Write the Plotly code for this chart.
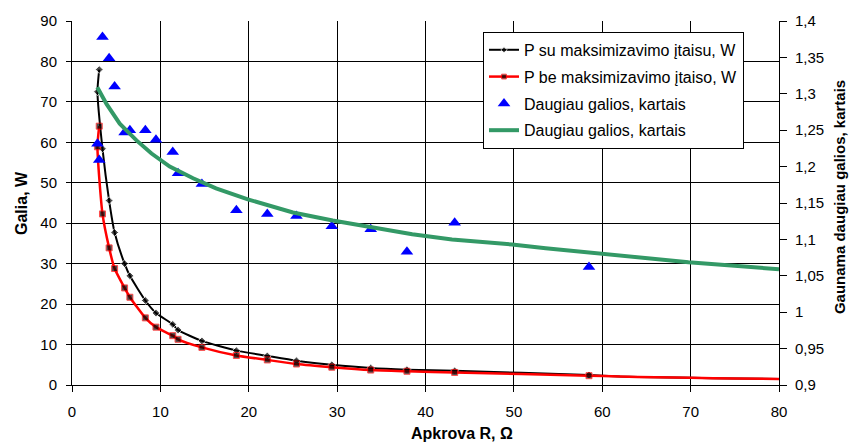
import plotly.graph_objects as go

# Load resistance, Ohm (measurement order)
R = [3.08, 2.88, 3.45, 4.2, 4.82, 5.95, 6.55, 8.3, 9.5, 11.4, 12.0, 14.7,
     18.6, 22.1, 25.4, 29.4, 33.8, 37.9, 43.3, 58.5]
# Power with the maximizer, W
P_with = [78.0, 72.5, 58.4, 45.6, 37.7, 30.0, 27.0, 20.9, 17.8, 15.0, 13.6, 10.9,
          8.5, 7.2, 6.0, 5.0, 4.2, 3.8, 3.5, 2.5]
# Power without the maximizer, W
P_without = [64.0, 58.9, 42.3, 33.9, 28.8, 24.0, 21.7, 16.6, 14.3, 12.2, 11.3, 9.3,
             7.3, 6.2, 5.2, 4.4, 3.7, 3.4, 3.1, 2.3]
# Power gain ratio at each load
gain = [1.209, 1.2315, 1.378, 1.349, 1.310, 1.247, 1.250, 1.250, 1.237, 1.220, 1.191, 1.176,
        1.140, 1.135, 1.132, 1.118, 1.114, 1.083, 1.123, 1.062]

# Curve continuation past the last measurement
R_tail = [62, 66, 70, 75, 80]
P_with_tail = [2.1, 1.9, 1.8, 1.6, 1.5]
P_without_tail = [2.1, 1.9, 1.8, 1.6, 1.5]

# Gain trend curve
R_trend = [2.86, 3.9, 5.4, 7.3, 9.0, 11.06, 13.7, 16.3, 19.9, 25.0, 29.5, 34.0,
           38.5, 43.0, 46.0, 49.8, 53.6, 60.0, 69.75, 80.0]
gain_trend = [1.309, 1.286, 1.259, 1.236, 1.218, 1.200, 1.184, 1.170, 1.155, 1.137, 1.126, 1.116,
              1.107, 1.100, 1.097, 1.093, 1.088, 1.080, 1.0685, 1.059]

x_ticks = [0, 10, 20, 30, 40, 50, 60, 70, 80]
y_ticks = [0, 10, 20, 30, 40, 50, 60, 70, 80, 90]
y2_ticks = [0.9, 0.95, 1.0, 1.05, 1.1, 1.15, 1.2, 1.25, 1.3, 1.35, 1.4]
y2_labels = ["0,9", "0,95", "1", "1,05", "1,1", "1,15", "1,2", "1,25", "1,3", "1,35", "1,4"]

FONT = "Liberation Sans, Arial, sans-serif"

fig = go.Figure()

fig.add_trace(go.Scatter(
    x=R + R_tail, y=P_with + P_with_tail, mode="lines+markers",
    name="P su maksimizavimo įtaisu, W", legendgroup="a",
    line=dict(color="black", width=2, shape="spline", smoothing=0.6),
    marker=dict(symbol="diamond", size=[6] * len(R) + [0] * len(R_tail), color="black"),
))
fig.add_trace(go.Scatter(
    x=R + R_tail, y=P_without + P_without_tail, mode="lines+markers",
    name="P be maksimizavimo įtaiso, W", legendgroup="b",
    line=dict(color="#FF0000", width=2.5, shape="spline", smoothing=0.6),
    marker=dict(symbol="square", size=[6] * len(R) + [0] * len(R_tail), color="black"),
))
fig.add_trace(go.Scatter(
    x=R, y=gain, mode="markers", yaxis="y2",
    name="Daugiau galios, kartais", legendgroup="c",
    marker=dict(symbol="triangle-up", size=11, color="#0000FF"),
))
fig.add_trace(go.Scatter(
    x=R_trend, y=gain_trend, mode="lines", yaxis="y2",
    name="Daugiau galios, kartais", legendgroup="d",
    line=dict(color="#339966", width=4),
))

axis_common = dict(
    showline=True, linecolor="black", linewidth=1,
    ticks="outside", tickcolor="black",
    zeroline=False, tickfont=dict(size=15, family=FONT, color="black"),
)

fig.update_layout(
    width=856, height=445,
    margin=dict(l=72, r=77, t=17, b=60),
    plot_bgcolor="white", paper_bgcolor="white",
    font=dict(family=FONT, size=15, color="black"),
    xaxis=dict(range=[0, 80], tickvals=x_ticks, showgrid=True, gridcolor="black", gridwidth=1,
               ticklen=6, ticklabelstandoff=7, **axis_common),
    yaxis=dict(range=[0, 90], tickvals=y_ticks, showgrid=True, gridcolor="black", gridwidth=1,
               ticklen=5, ticklabelstandoff=6, **axis_common),
    yaxis2=dict(range=[0.9, 1.4], tickvals=y2_ticks, ticktext=y2_labels, overlaying="y",
                side="right", showgrid=False, ticklen=7, ticklabelstandoff=5, **axis_common),
    legend=dict(x=(483 - 72) / 707, y=(385 - 28) / 368, xanchor="left", yanchor="top",
                bgcolor="white", bordercolor="black", borderwidth=1,
                font=dict(size=16, family=FONT), tracegroupgap=3, itemwidth=30),
    showlegend=True,
    annotations=[
        dict(text="<b>Apkrova R, Ω</b>", xref="paper", yref="paper",
             x=(462 - 72) / 707, y=-(434.5 - 385) / 368, xanchor="center", yanchor="middle",
             showarrow=False, font=dict(size=16, family=FONT)),
        dict(text="<b>Galia, W</b>", xref="paper", yref="paper", textangle=-90,
             x=-(72 - 21) / 707, y=0.5, xanchor="center", yanchor="middle",
             showarrow=False, font=dict(size=16, family=FONT)),
        dict(text="<b>Gaunama daugiau galios, kartais</b>", xref="paper", yref="paper",
             textangle=-90, x=1 + (839 - 779) / 707, y=(385 - 195) / 368,
             xanchor="center", yanchor="middle",
             showarrow=False, font=dict(size=15, family=FONT)),
    ],
)

fig.write_html("out.html")
